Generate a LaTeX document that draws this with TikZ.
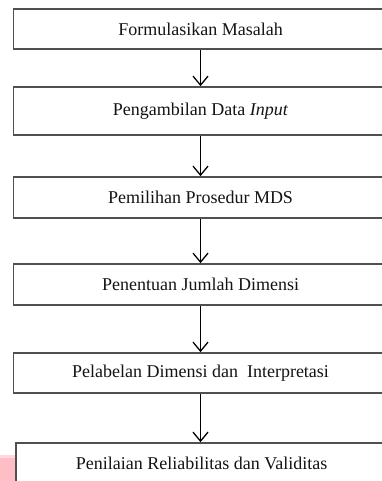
\documentclass[tikz,border=0pt]{standalone}
\usepackage{fontspec}
\setmainfont{Liberation Serif}
\usetikzlibrary{arrows.meta}
\definecolor{boxline}{RGB}{80,80,80}
\definecolor{txt}{RGB}{20,20,20}
\definecolor{pinkmark}{RGB}{255,190,198}
\definecolor{pinklight}{RGB}{255,215,220}
\tikzset{
  stepbox/.style={draw=boxline, line width=1.7pt, fill=white, minimum width=374pt,
    inner sep=0pt, text=txt, font=\fontsize{18}{21}\selectfont},
  flowarrow/.style={draw=black, line width=1.3pt, -{Straight Barb[length=9pt,width=15pt,line width=1.3pt]}}
}
\begin{document}
\begin{tikzpicture}[x=1pt,y=1pt]
\useasboundingbox (0,0) rectangle (382,-481);
\clip (0,0) rectangle (382,-481);
\fill[white] (0,0) rectangle (382,-481);
% pink mark bottom left
\fill[pinkmark] (0,-458) rectangle (16,-481);
\fill[pinklight] (0,-455) rectangle (16,-458);
\node[stepbox, minimum height=40pt] (b1) at (200.5,-29) {Formulasikan Masalah};
\node[stepbox, minimum height=48pt] (b2) at (200.5,-111) {Pengambilan Data \textit{Input}};
\node[stepbox, minimum height=41pt] (b3) at (200.5,-197.5) {Pemilihan Prosedur MDS};
\node[stepbox, minimum height=41pt] (b4) at (200.5,-284.5) {Penentuan Jumlah Dimensi};
\node[stepbox, minimum height=40pt] (b5) at (200.5,-373) {Pelabelan Dimensi dan\ \ Interpretasi};
\node[stepbox, minimum height=40pt, minimum width=371pt] (b6) at (201.5,-463) {Penilaian Reliabilitas dan Validitas};
\draw[flowarrow] (b1.south) -- (b2.north);
\draw[flowarrow] (b2.south) -- (b3.north);
\draw[flowarrow] (b3.south) -- (b4.north);
\draw[flowarrow] (b4.south) -- (b5.north);
\draw[flowarrow] (b5.south) -- (b5.south |- b6.north);
\end{tikzpicture}
\end{document}
